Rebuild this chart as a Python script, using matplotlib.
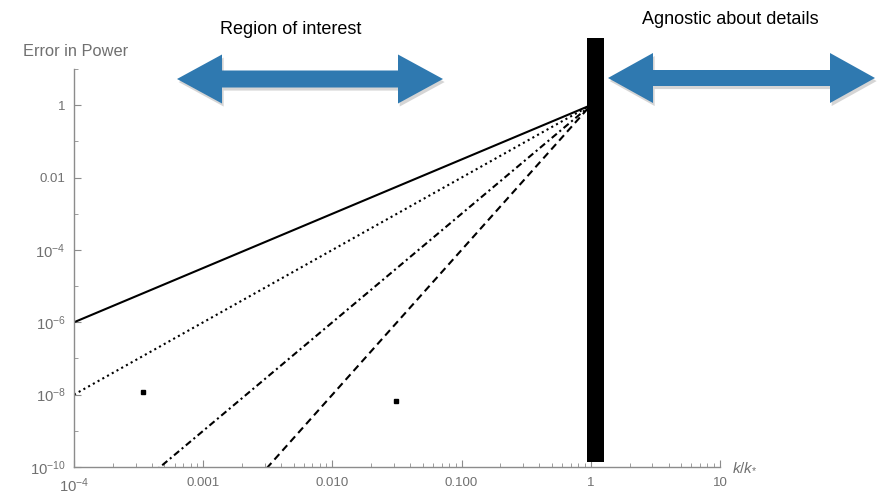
import numpy as np
import matplotlib
matplotlib.use("Agg")
import matplotlib.pyplot as plt
from matplotlib.patches import Polygon, Rectangle
import matplotlib.patheffects as pe
from matplotlib.ticker import FixedLocator, FixedFormatter, NullFormatter

plt.rcParams['font.family'] = ['Liberation Sans', 'DejaVu Sans']
plt.rcParams['mathtext.fontset'] = 'custom'
plt.rcParams['mathtext.rm'] = 'Liberation Sans'
plt.rcParams['mathtext.it'] = 'Liberation Sans:italic'
plt.rcParams['mathtext.bf'] = 'Liberation Sans:bold'

# power-law error curves: error = (k/k*)^n, all meeting at k = k*
slopes = [1.5, 2.0, 3.0, 4.0]
styles = ['-', (0, (1, 1.6)), (0, (3.2, 1.6, 1, 1.6)), (0, (3.5, 2.2))]
k_start = 1e-4
k_end = 1.0

# two isolated sample points
pt_k = [3.4e-4, 0.031]
pt_err = [1.15e-8, 6.8e-9]

# the cutoff bar near k*
bar_k = [0.93, 1.26]
bar_err = [1.38e-10, 70.0]

x_ticks = [1e-4, 1e-3, 1e-2, 1e-1, 1, 10]
x_labels = [r'$10^{-4}$', '0.001', '0.010', '0.100', '1', '10']
y_ticks = [1e-10, 1e-8, 1e-6, 1e-4, 1e-2, 1]
y_labels = [r'$10^{-10}$', r'$10^{-8}$', r'$10^{-6}$', r'$10^{-4}$', '0.01', '1']
y_minor = [1e-9, 1e-7, 1e-5, 1e-3, 1e-1, 10]

W, H = 881, 494
fig = plt.figure(figsize=(W / 100, H / 100), dpi=100)
ax = fig.add_axes([74 / W, (H - 467) / H, (720 - 74) / W, (467 - 69) / H])
ax.set_xscale('log')
ax.set_yscale('log')
ax.set_xlim(1e-4, 10)
ax.set_ylim(1e-10, 10)

k = np.logspace(np.log10(k_start), np.log10(k_end), 400)
for n, ls in zip(slopes, styles):
    ax.plot(k, k ** n, color='black', lw=1.5, linestyle=ls)

ax.plot(pt_k, pt_err, linestyle='none', marker='s', ms=3, color='black')

ax.add_patch(Rectangle((bar_k[0], bar_err[0]), bar_k[1] - bar_k[0],
                       bar_err[1] - bar_err[0], facecolor='black',
                       edgecolor='none', clip_on=False, zorder=5))

grey = '#8c8c8c'
for side in ['top', 'right']:
    ax.spines[side].set_visible(False)
for side in ['left', 'bottom']:
    ax.spines[side].set_color(grey)
    ax.spines[side].set_linewidth(1.0)

ax.xaxis.set_major_locator(FixedLocator(x_ticks))
ax.xaxis.set_major_formatter(FixedFormatter(x_labels))
xminor = [m * 10.0 ** e for e in range(-4, 1) for m in range(2, 10)]
ax.xaxis.set_minor_locator(FixedLocator(xminor))
ax.xaxis.set_minor_formatter(NullFormatter())
ax.yaxis.set_major_locator(FixedLocator(y_ticks))
ax.yaxis.set_major_formatter(FixedFormatter(y_labels))
ax.yaxis.set_minor_locator(FixedLocator(y_minor))
ax.yaxis.set_minor_formatter(NullFormatter())

ax.tick_params(which='both', direction='in', color=grey, labelcolor='#707070',
               labelsize=9.5)
ax.tick_params(which='major', length=5, width=0.8)
ax.tick_params(which='minor', length=3, width=0.6)
ax.tick_params(axis='x', pad=7)
ax.tick_params(axis='y', pad=6)

# power-of-ten labels drawn a little larger so the exponents stay legible
for lab in ax.get_xticklabels() + ax.get_yticklabels():
    if '^' in lab.get_text():
        lab.set_fontsize(10.7)

fig.text(23 / W, 1 - 52 / H, 'Error in Power', color='#707070', fontsize=11.8,
         va='center', ha='left')
fig.text(732 / W, 1 - 467 / H, r'$k/k_{*}$', color='#707070', fontsize=11,
         va='center', ha='left')

fig.text(291 / W, 1 - 30 / H, 'Region of interest', color='black',
         fontsize=13, ha='center', va='center')
fig.text(730 / W, 1 - 20 / H, 'Agnostic about details', color='black',
         fontsize=13, ha='center', va='center')


def double_arrow(x0, x1, xb0, xb1, yc, head_half, shaft_half):
    pts = [(x0, yc), (xb0, yc - head_half), (xb0, yc - shaft_half),
           (xb1, yc - shaft_half), (xb1, yc - head_half), (x1, yc),
           (xb1, yc + head_half), (xb1, yc + shaft_half),
           (xb0, yc + shaft_half), (xb0, yc + head_half)]
    pts = [(px / W, 1 - py / H) for px, py in pts]
    poly = Polygon(pts, closed=True, transform=fig.transFigure,
                   facecolor='#2f79b0', edgecolor='none', zorder=3)
    poly.set_path_effects([pe.SimplePatchShadow(offset=(1.2, -2.2),
                                                shadow_rgbFace='#888888',
                                                alpha=0.35),
                           pe.Normal()])
    fig.patches.append(poly)


double_arrow(177, 443, 222, 398, 79, 24.5, 8.5)
double_arrow(608, 875, 653, 830, 78, 25, 8)

fig.savefig('out.png', dpi=100)
